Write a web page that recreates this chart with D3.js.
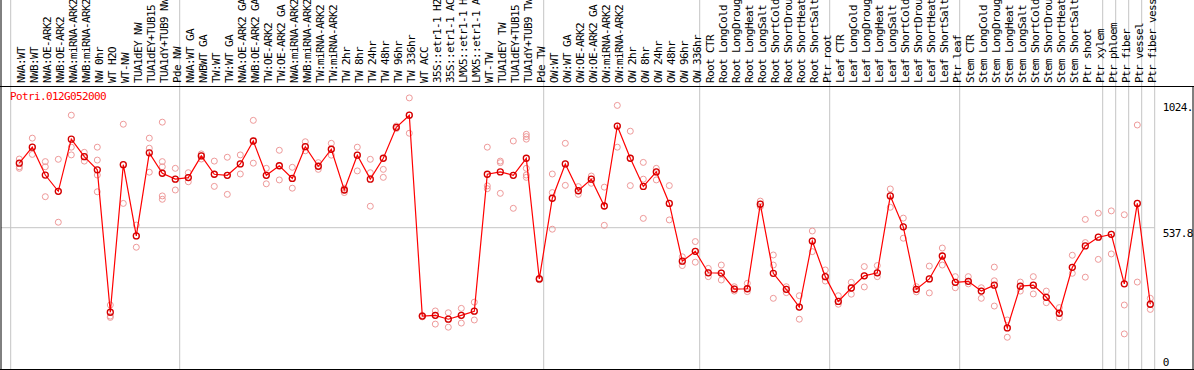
<!DOCTYPE html>
<html>
<head>
<meta charset="utf-8">
<script src="https://cdn.jsdelivr.net/npm/d3@7"></script>
<style>
  body { margin: 0; background: #fff; }
  text { font-family: "DejaVu Sans Mono", monospace; font-size: 11px; letter-spacing: -0.62px; }
</style>
</head>
<body>
<script>
// sample labels, in column order
const samples = [
  "NWA:WT","NWB:WT","NWA:OE-ARK2","NWB:OE-ARK2","NWA:miRNA-ARK2","NWB:miRNA-ARK2","NW 0hr","WT H2O","WT-NW","TUA1dEY NW","TUA1dEY+TUB15 NW","TUA1dY+TUB9 NW","Pde NW",
  "NWA:WT GA","NWBWT GA","TW:WT","TW:WT GA","NWA:OE-ARK2 GA","NWB:OE-ARK2 GA","TW:OE-ARK2","TW:OE-ARK2 GA","NWA:miRNA-ARK2 GA","NWB:miRNA-ARK2 GA","TW:miRNA-ARK2","TW:miRNA-ARK2 GA",
  "TW 2hr","TW 8hr","TW 24hr","TW 48hr","TW 96hr","TW 336hr","WT ACC","35S::etr1-1 H2O","35S::etr1-1 ACC","LMX5::etr1-1 H2O","LMX5::etr1-1 ACC","WT-TW","TUA1dEY TW","TUA1dEY+TUB15 TW","TUA1dY+TUB9 TW","Pde TW",
  "OW:WT","OW:WT GA","OW:OE-ARK2","OW:OE-ARK2 GA","OW:miRNA-ARK2","OW:miRNA-ARK2 GA","OW 2hr","OW 8hr","OW 24hr","OW 48hr","OW 96hr","OW 336hr",
  "Root CTR","Root LongCold","Root LongDrought","Root LongHeat","Root LongSalt","Root ShortCold","Root ShortDrought","Root ShortHeat","Root ShortSalt","Ptr root",
  "Leaf CTR","Leaf LongCold","Leaf LongDrought","Leaf LongHeat","Leaf LongSalt","Leaf ShortCold","Leaf ShortDrought","Leaf ShortHeat","Leaf ShortSalt","Ptr leaf",
  "Stem CTR","Stem LongCold","Stem LongDrought","Stem LongHeat","Stem LongSalt","Stem ShortCold","Stem ShortDrought","Stem ShortHeat","Stem ShortSalt","Ptr shoot","Ptr xylem",
  "Ptr phloem","Ptr fiber","Ptr vessel","Ptr fiber vessel"
];

// number of samples in each experiment block
const groupSizes = [13, 28, 12, 10, 10, 11, 1, 1, 1, 1];

// mean expression per sample
const means = [
  788, 850, 742, 679, 881, 813, 762, 210, 782, 506, 828, 749, 726,
  732, 816, 745, 741, 785, 874, 741, 778, 729, 852, 776, 842, 684, 819, 726, 807, 927, 974,
  195, 198, 183, 198, 214, 745, 754, 741, 807, 339,
  652, 785, 681, 726, 622, 932, 807, 698, 754, 632, 408, 446,
  363, 362, 300, 301, 629, 361, 299, 230, 486, 348,
  252, 304, 351, 363, 661, 541, 299, 339, 428, 326,
  330, 292, 315, 149, 311, 315, 268, 206, 384, 467, 501,
  512, 320, 632, 241
];

// replicate values per sample
const reps = [
  [804, 774, 768], [885, 822, 850], [794, 774, 658], [803, 559, 679], [974, 850, 820],
  [830, 796, 813], [850, 800, 742, 677], [238, 195, 190], [939, 632, 782], [548, 462, 506],
  [885, 846, 753], [947, 794, 774, 661, 648], [768, 684, 726],
  [751, 716, 732], [824, 804, 816], [796, 698, 745], [811, 667, 741], [820, 746, 785],
  [954, 788, 874], [768, 708, 741], [838, 723, 778], [772, 691, 729], [871, 836, 852],
  [790, 764, 776], [865, 819, 842], [691, 674, 684], [850, 758, 819], [803, 751, 621],
  [764, 733, 807], [932, 927, 922], [1041, 904, 974],
  [195, 192, 198], [215, 164, 198], [208, 152, 183], [225, 168, 198], [249, 180, 214],
  [850, 700, 689], [796, 790, 671], [874, 613, 741], [900, 891, 881, 768, 742, 733], [339, 336, 342],
  [746, 674, 532], [865, 702, 785], [697, 667, 681], [738, 710, 726], [695, 547, 622],
  [1012, 850, 932], [912, 701, 807], [791, 726, 574], [768, 723, 754], [701, 568, 632],
  [425, 391, 408], [484, 404, 446],
  [380, 348, 363], [393, 335, 362], [309, 292, 300], [322, 290, 301], [641, 619, 629],
  [432, 393, 264], [309, 286, 299], [274, 183, 230], [525, 445, 486], [374, 331, 348],
  [274, 241, 252], [326, 280, 304], [387, 308, 351], [391, 348, 363], [688, 617, 661],
  [575, 497, 541], [309, 289, 299], [389, 285, 339], [459, 393, 428], [348, 305, 326],
  [348, 320, 330], [305, 264, 292], [385, 332, 234], [180, 113, 149], [327, 292, 311],
  [348, 281, 315], [292, 247, 268], [228, 189, 206], [431, 361, 384], [570, 480, 346],
  [594, 415, 501], [603, 436, 512], [588, 238, 126], [936, 327, 632], [264, 221, 241]
];

const geneId = "Potri.012G052000";
const tickValues = [0, 537.8, 1024];
const tickLabels = ["0", "537.8", "1024."];

const w = 1194;
const h = 370;
const headerBottom = 86.5;
const plotBottom = 369.5;

const svg = d3.select("body").append("svg")
  .attr("width", w)
  .attr("height", h);

const x = d3.scaleBand()
  .domain(samples)
  .range([10.7, 1154.7]);

const y = d3.scaleLinear()
  .domain([0, 1024])
  .range([366.4, 102.3]);

const cx = (d) => x(d) + 8.6;

// group separators
let starts = [0];
groupSizes.forEach((s) => starts.push(starts[starts.length - 1] + s));
svg.selectAll("line.sep")
  .data(starts)
  .enter()
  .append("line")
  .attr("class", "sep")
  .attr("x1", (i) => i < samples.length ? x(samples[i]) : x.range()[1])
  .attr("x2", (i) => i < samples.length ? x(samples[i]) : x.range()[1])
  .attr("y1", 0)
  .attr("y2", plotBottom)
  .attr("stroke", "#c4c4c4")
  .attr("stroke-width", 1);

// mid gridline
svg.append("line")
  .attr("x1", 1)
  .attr("x2", x.range()[1])
  .attr("y1", y(537.8))
  .attr("y2", y(537.8))
  .attr("stroke", "#c4c4c4");

// frame lines
svg.append("line").attr("x1", 0).attr("x2", w).attr("y1", headerBottom).attr("y2", headerBottom).attr("stroke", "#000");
svg.append("line").attr("x1", 0).attr("x2", w).attr("y1", plotBottom).attr("y2", plotBottom).attr("stroke", "#000");
svg.append("line").attr("x1", 1).attr("x2", 1).attr("y1", 0).attr("y2", h).attr("stroke", "#000");
svg.append("line").attr("x1", w - 1).attr("x2", w - 1).attr("y1", headerBottom).attr("y2", plotBottom).attr("stroke", "#000");

// rotated sample labels
svg.selectAll("text.sample")
  .data(samples)
  .enter()
  .append("text")
  .attr("class", "sample")
  .attr("transform", (d) => "translate(" + (x(d) + 14) + "," + 83 + ") rotate(-90)")
  .attr("fill", "#000")
  .text((d) => d);

// title
svg.append("text")
  .attr("x", 10)
  .attr("y", 100)
  .attr("fill", "#ff0000")
  .text(geneId);

// replicates
const repPoints = [];
reps.forEach((r, i) => r.forEach((v) => repPoints.push([samples[i], v])));
svg.selectAll("circle.rep")
  .data(repPoints)
  .enter()
  .append("circle")
  .attr("class", "rep")
  .attr("cx", (d) => cx(d[0]))
  .attr("cy", (d) => y(d[1]))
  .attr("r", 3)
  .attr("fill", "none")
  .attr("stroke", "#ee9a9a")
  .attr("stroke-width", 1);

// mean line
const line = d3.line()
  .x((d, i) => cx(samples[i]))
  .y((d) => y(d));

svg.append("path")
  .datum(means)
  .attr("d", line)
  .attr("fill", "none")
  .attr("stroke", "#ff0000")
  .attr("stroke-width", 1.2);

svg.selectAll("circle.mean")
  .data(means)
  .enter()
  .append("circle")
  .attr("class", "mean")
  .attr("cx", (d, i) => cx(samples[i]))
  .attr("cy", (d) => y(d))
  .attr("r", 3)
  .attr("fill", "none")
  .attr("stroke", "#d40000")
  .attr("stroke-width", 1.3);

// value axis on the right
const yAxis = d3.axisRight(y)
  .tickValues(tickValues)
  .tickFormat((d, i) => tickLabels[i])
  .tickSize(0)
  .tickPadding(8);

const ag = svg.append("g")
  .attr("transform", "translate(" + x.range()[1] + ",0)")
  .call(yAxis);
ag.select(".domain").remove();
ag.selectAll("text")
  .attr("font-family", null)
  .attr("font-size", null)
  .attr("fill", "#000")
  .attr("dy", (d) => d === 0 ? "-0.12em" : "0.76em");
</script>
</body>
</html>
